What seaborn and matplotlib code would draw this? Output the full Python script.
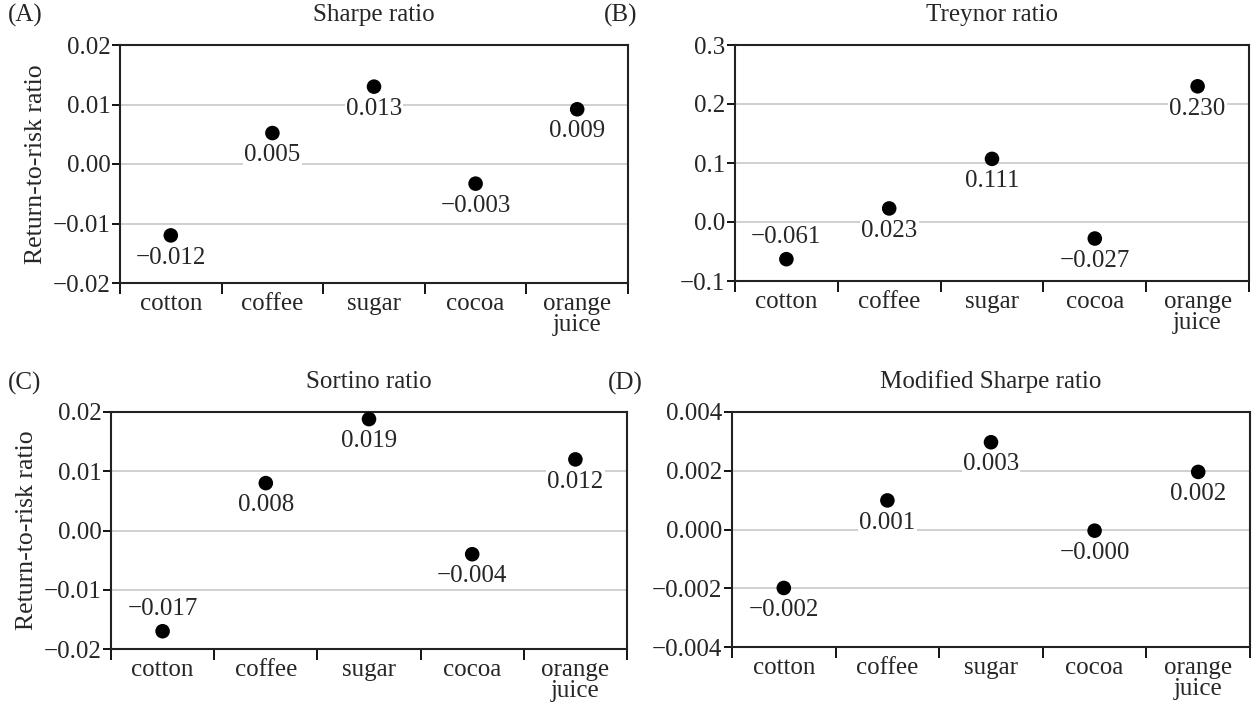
import numpy as np
import pandas as pd
import seaborn as sns
import matplotlib.pyplot as plt
from matplotlib.ticker import FixedLocator, FuncFormatter

# Data
commodities = ['cotton', 'coffee', 'sugar', 'cocoa', 'orange juice']
tick_names = ['cotton', 'coffee', 'sugar', 'cocoa', 'orange\njuice']

sharpe = [-0.012, 0.0052, 0.013, -0.0033, 0.0092]
treynor = [-0.063, 0.023, 0.107, -0.028, 0.230]
sortino = [-0.017, 0.008, 0.0188, -0.004, 0.012]
mod_sharpe = [-0.00199, 0.00099, 0.00297, -0.00004, 0.00196]

treynor_labels = [-0.061, 0.023, 0.111, -0.027, 0.230]

sharpe_ticks = [-0.02, -0.01, 0.00, 0.01, 0.02]
treynor_ticks = [-0.1, 0.0, 0.1, 0.2, 0.3]
sortino_ticks = [-0.02, -0.01, 0.00, 0.01, 0.02]
mod_ticks = [-0.004, -0.002, 0.000, 0.002, 0.004]

sns.set_style("white")
plt.rcParams['font.family'] = ['Liberation Serif', 'DejaVu Serif']
plt.rcParams['axes.unicode_minus'] = True

FS = 18
fig = plt.figure(figsize=(12.53, 7.04), dpi=100)
W, H = 1253, 704

def add_axes(left, right, top, bottom):
    return fig.add_axes([left / W, 1 - bottom / H, (right - left) / W, (bottom - top) / H])

def fmt(v, d):
    return f"{v:.{d}f}".replace('-', '\u2212')

panels = [
    ('(A)', (8, 15), 'Sharpe ratio', sharpe, sharpe, sharpe_ticks, 2, add_axes(120, 628, 45, 283), True, []),
    ('(B)', (604, 15), 'Treynor ratio', treynor, treynor_labels, treynor_ticks, 1, add_axes(735, 1249, 45, 281), False, [0]),
    ('(C)', (8, 383), 'Sortino ratio', sortino, sortino, sortino_ticks, 2, add_axes(111, 627, 412, 649), True, [0]),
    ('(D)', (608, 383), 'Modified Sharpe ratio', mod_sharpe, mod_sharpe, mod_ticks, 3, add_axes(732, 1250, 412, 647), False, []),
]

for letter, lpos, title, vals, labs, yt, dec, ax, ylab, above in panels:
    df = pd.DataFrame({'commodity': commodities, 'value': vals})
    ax.yaxis.grid(True, color='#c8c8c8', linewidth=1.2, zorder=0)
    ax.set_axisbelow(True)
    sns.scatterplot(data=df, x='commodity', y='value', ax=ax, color='black',
                    s=110, edgecolor='none', zorder=3)
    for i, (v, lab) in enumerate(zip(vals, labs)):
        dy = 16 if i in above else -16
        ax.annotate(fmt(lab, 3), (i, v), xytext=(0, dy), textcoords='offset points',
                    ha='center', va='center', fontsize=FS, zorder=4,
                    bbox=dict(boxstyle='square,pad=0.05', fc='white', ec='none'))

    ax.set_xlim(-0.5, 4.5)
    ax.set_ylim(yt[0], yt[-1])
    ax.set_yticks(yt)
    ax.yaxis.set_major_formatter(FuncFormatter(lambda v, p, d=dec: fmt(v, d)))
    ax.xaxis.set_major_locator(FixedLocator(np.arange(-0.5, 5, 1.0)))
    ax.xaxis.set_major_formatter(FuncFormatter(lambda v, p: ''))
    ax.xaxis.set_minor_locator(FixedLocator(np.arange(5)))
    ax.set_xticklabels(tick_names, minor=True, linespacing=0.95)
    ax.tick_params(axis='x', which='major', direction='out', length=8, width=1.3, color='black', bottom=True)
    ax.tick_params(axis='x', which='minor', length=0, labelsize=FS, pad=7)
    ax.tick_params(axis='y', direction='out', length=6, width=1.3, color='black', left=True,
                   labelsize=FS, pad=1)
    for sp in ax.spines.values():
        sp.set_visible(True)
        sp.set_color('#222222')
        sp.set_linewidth(1.5)

    ax.set_xlabel('')
    ax.set_ylabel('Return-to-risk ratio' if ylab else '', fontsize=FS + 0.5, labelpad=4)
    ax.set_title(title, fontsize=FS, pad=17)
    fig.text(lpos[0] / W, 1 - lpos[1] / H, letter, fontsize=FS, ha='left', va='center')

fig.savefig('out.png', dpi=100)
